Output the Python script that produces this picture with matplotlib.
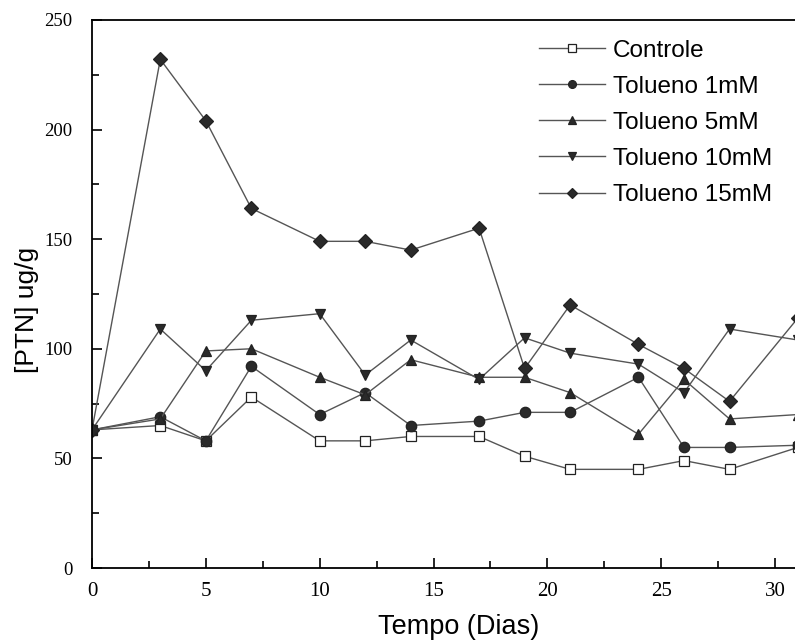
import matplotlib.pyplot as plt
from matplotlib.ticker import MultipleLocator

# dias de coleta
dias = [0, 3, 5, 7, 10, 12, 14, 17, 19, 21, 24, 26, 28, 31]

controle = [63, 65, 58, 78, 58, 58, 60, 60, 51, 45, 45, 49, 45, 55]
tol_1mM = [63, 69, 58, 92, 70, 80, 65, 67, 71, 71, 87, 55, 55, 56]
tol_5mM = [63, 68, 99, 100, 87, 79, 95, 87, 87, 80, 61, 86, 68, 70]
tol_10mM = [63, 109, 90, 113, 116, 88, 104, 86, 105, 98, 93, 80, 109, 104]
tol_15mM = [63, 232, 204, 164, 149, 149, 145, 155, 91, 120, 102, 91, 76, 114]

series = [
    ('Controle', controle, 's', 'white'),
    ('Tolueno 1mM', tol_1mM, 'o', '#2a2a2a'),
    ('Tolueno 5mM', tol_5mM, '^', '#2a2a2a'),
    ('Tolueno 10mM', tol_10mM, 'v', '#2a2a2a'),
    ('Tolueno 15mM', tol_15mM, 'D', '#2a2a2a'),
]

fig = plt.figure(figsize=(7.95, 6.43), dpi=100)
# eixo passa da borda direita, como na figura original
ax = fig.add_axes([0.1157, 0.1166, 0.9165, 0.8525])

for label, vals, mk, face in series:
    ms = 7.5 if mk != 'D' else 7
    ax.plot(dias, vals, color='#555555', lw=1.0, marker=mk, markersize=ms,
            markerfacecolor=face, markeredgecolor='#222222', markeredgewidth=0.9,
            label=label)

ax.set_xlim(0, 32)
ax.set_ylim(0, 250)
ax.xaxis.set_major_locator(MultipleLocator(5))
ax.xaxis.set_minor_locator(MultipleLocator(2.5))
ax.yaxis.set_major_locator(MultipleLocator(50))
ax.yaxis.set_minor_locator(MultipleLocator(25))
ax.tick_params(which='both', direction='in', top=False, right=False, width=1.2)
ax.tick_params(which='major', length=7)
ax.tick_params(which='minor', length=5)
ax.tick_params(axis='x', labelsize=15, pad=10)
ax.tick_params(axis='y', labelsize=13.5, pad=14)
for t in ax.get_xticklabels() + ax.get_yticklabels():
    t.set_fontfamily('Liberation Serif')
for s in ax.spines.values():
    s.set_linewidth(1.3)
ax.spines['right'].set_visible(False)

ax.set_xlabel('Tempo (Dias)', fontsize=19.5, family='Liberation Sans')
ax.set_ylabel('[PTN] ug/g', fontsize=19, family='Liberation Sans')
ax.xaxis.set_label_coords(0.503, -0.084)
ax.yaxis.set_label_coords(-0.073, 0.47)

leg = ax.legend(loc='upper left', bbox_to_anchor=(0.59, 0.995), frameon=False,
                prop={'family': 'Liberation Sans', 'size': 17.5},
                handlelength=2.7, handletextpad=0.35, labelspacing=0.58,
                markerscale=0.75, borderaxespad=0.3)

fig.savefig('out.png', dpi=100)
